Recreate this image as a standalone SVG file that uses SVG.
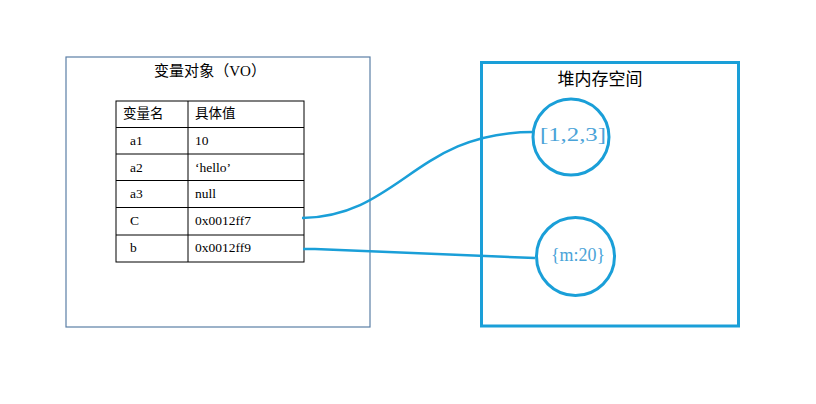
<svg xmlns="http://www.w3.org/2000/svg" width="816" height="404" viewBox="0 0 816 404">
<style>
.cjk{font-family:"Liberation Serif","Noto Sans CJK SC",serif;fill:#000}
.cell{font-family:"Liberation Serif","Noto Sans CJK SC",serif;font-size:13.5px;fill:#000}
.grid{stroke:#000;stroke-width:1;fill:none}
.heap{stroke:#1a9fd8;fill:none}
.val{font-family:"Liberation Serif","DejaVu Serif",serif;font-size:18px;fill:#4aa3d8}
.conn{stroke:#1a9fd8;stroke-width:2.5;fill:none}
</style>
<rect width="816" height="404" fill="#fff"/>
<g id="vo">
<rect x="66" y="57" width="304" height="270" fill="none" stroke="#5b7fa6" stroke-width="1.2"/>
<text class="cjk" x="210" y="76" font-size="15" text-anchor="middle" textLength="112" lengthAdjust="spacingAndGlyphs">变量对象（VO）</text>
</g>
<g id="table">
<rect class="grid" x="116" y="101" width="188" height="161"/>
<line class="grid" x1="188" y1="101" x2="188" y2="262"/>
<line class="grid" x1="116" y1="127.5" x2="304" y2="127.5"/>
<line class="grid" x1="116" y1="154" x2="304" y2="154"/>
<line class="grid" x1="116" y1="180.5" x2="304" y2="180.5"/>
<line class="grid" x1="116" y1="207.5" x2="304" y2="207.5"/>
<line class="grid" x1="116" y1="235" x2="304" y2="235"/>
<text class="cell" x="123" y="118">变量名</text>
<text class="cell" x="195" y="118">具体值</text>
<text class="cell" x="130" y="145">a1</text>
<text class="cell" x="195" y="145">10</text>
<text class="cell" x="130" y="172">a2</text>
<text class="cell" x="195" y="172">‘hello’</text>
<text class="cell" x="130" y="198">a3</text>
<text class="cell" x="195" y="198">null</text>
<text class="cell" x="130" y="225">C</text>
<text class="cell" x="195" y="225">0x0012ff7</text>
<text class="cell" x="130" y="252">b</text>
<text class="cell" x="195" y="252">0x0012ff9</text>
</g>
<g id="heap">
<rect class="heap" x="481.5" y="62.5" width="257" height="263.5" stroke-width="3"/>
<text x="600" y="85" font-size="17" text-anchor="middle" font-family="Noto Sans CJK SC,sans-serif" fill="#000">堆内存空间</text>
</g>
<g id="arr">
<circle class="heap" cx="571" cy="137" r="38" stroke-width="3"/>
<text class="val" x="573" y="141" text-anchor="middle" textLength="66" lengthAdjust="spacingAndGlyphs">[1,2,3]</text>
</g>
<g id="obj">
<circle class="heap" cx="575.5" cy="256.5" r="39" stroke-width="3"/>
<text class="val" x="578" y="261" text-anchor="middle" textLength="54" lengthAdjust="spacingAndGlyphs">{m:20}</text>
</g>
<g id="connectors">
<path class="conn" d="M302,218 C400,216 415,132 533,132"/>
<path class="conn" d="M303,249 L315,249 L535,258"/>
</g>
</svg>
